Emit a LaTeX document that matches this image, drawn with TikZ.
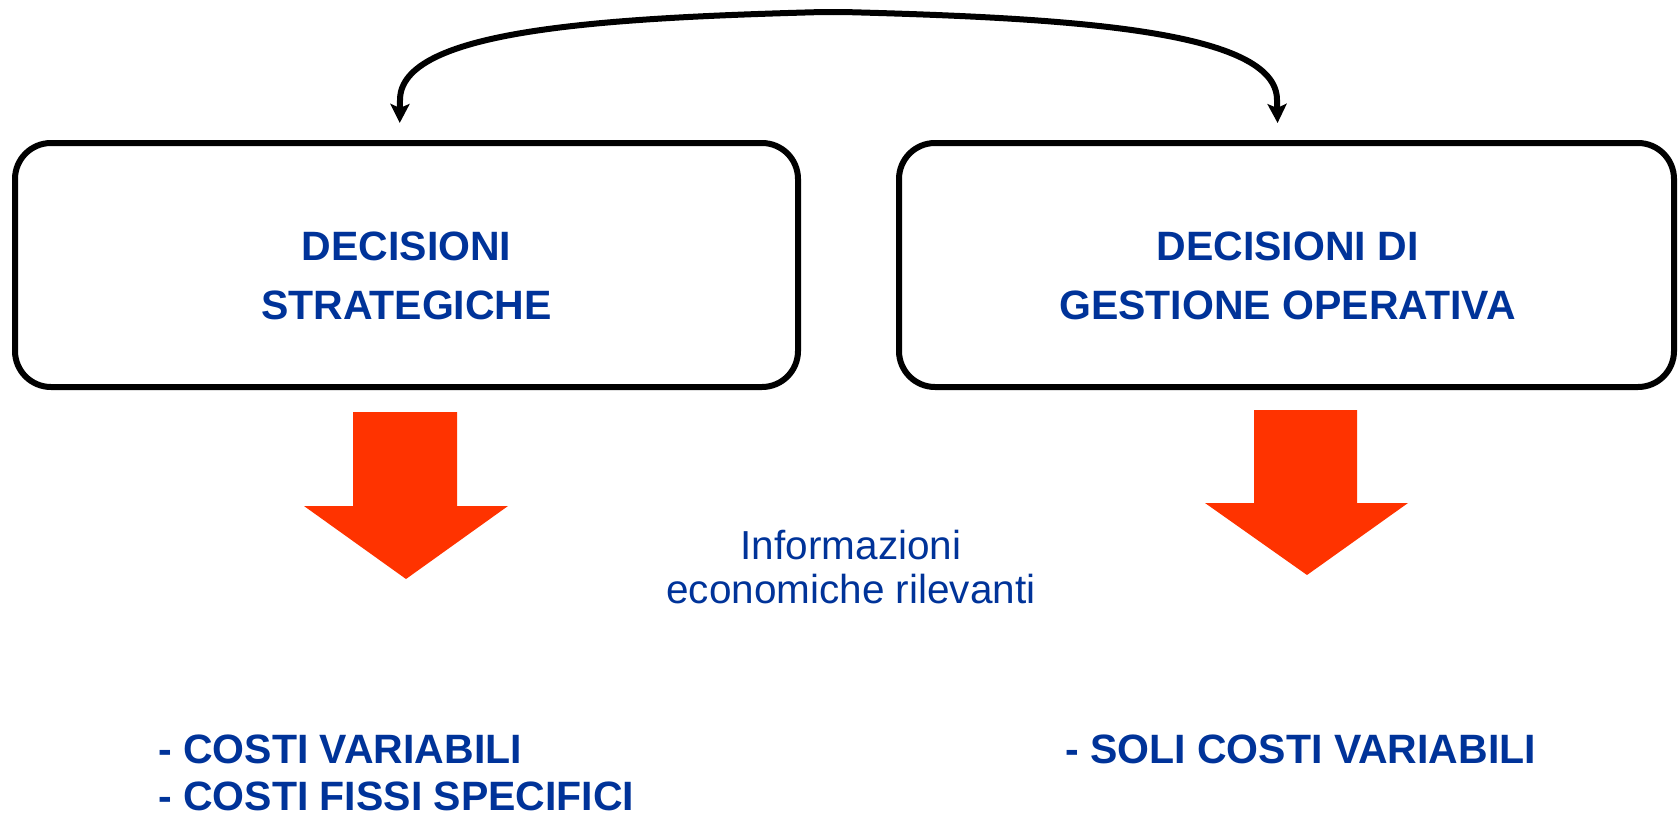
\documentclass[tikz,border=0pt]{standalone}
\usepackage{fontspec}
\setmainfont{Liberation Sans}
\usetikzlibrary{arrows.meta,positioning,calc}
\definecolor{decblue}{RGB}{0,51,153}
\definecolor{arrowred}{RGB}{255,51,0}

\begin{document}
\begin{tikzpicture}[x=1pt, y=-1pt
                   , decbox/.style={draw, line width=6pt, rounded corners=36pt, minimum width=783pt, minimum height=244pt, inner sep=0pt}
                   , dectext/.style={text=decblue, font=\fontsize{41}{59}\selectfont\bfseries, align=center, inner sep=0pt}
                   , costtext/.style={text=decblue, font=\fontsize{41}{47}\selectfont\bfseries, align=left, inner sep=0pt, anchor=north west}
                   , infotext/.style={text=decblue, font=\fontsize{40.5}{44}\selectfont, align=center, inner sep=0pt}
                   , link/.style={line width=6pt, -{Stealth[length=19pt,width=19pt,inset=4pt]}, shorten >=17pt}
                   ]

      \useasboundingbox (0,0) rectangle (1678,819);

      % the two kinds of decision
      \node (strat) [decbox] at (406.5,265) {};
      \node (oper) [decbox, minimum width=775pt] at (1286.5,265) {};
      \node (strattxt) [dectext] at ([yshift=-11pt]strat.center) {DECISIONI\\STRATEGICHE};
      \node (opertxt) [dectext] at ([xshift=1pt, yshift=-11pt]oper.center) {DECISIONI DI\\GESTIONE OPERATIVA};

      % link over the boxes
      \coordinate (apex) at (833,12);
      \draw [link] (apex) -- ++(-10,0) .. controls (600,18) and (400,30) .. (400,100) -- ([xshift=-7pt]strat.north);
      \draw [link] (apex) -- ++(10,0) .. controls (1070,18) and (1277,30) .. (1277,100) -- ([xshift=-8.5pt]oper.north);

      % red arrows
      \fill [arrowred] (353,412) -- (457,412) -- (457,506) -- (508,506) -- (406,579)
                       -- (304,506) -- (353,506) -- cycle;
      \fill [arrowred] (1254,410) -- (1357,410) -- (1357,503) -- (1408,503) -- (1307,575)
                       -- (1205,503) -- (1254,503) -- cycle;

      \node (info) [infotext] at (851,567) {Informazioni\\economiche rilevanti};

      % relevant costs
      \node (stratcost) [costtext] at (158,735) {- COSTI VARIABILI\\- COSTI FISSI SPECIFICI};
      \node (opercost) [costtext] at (1065,735) {- SOLI COSTI VARIABILI};

  \end{tikzpicture}
\end{document}
